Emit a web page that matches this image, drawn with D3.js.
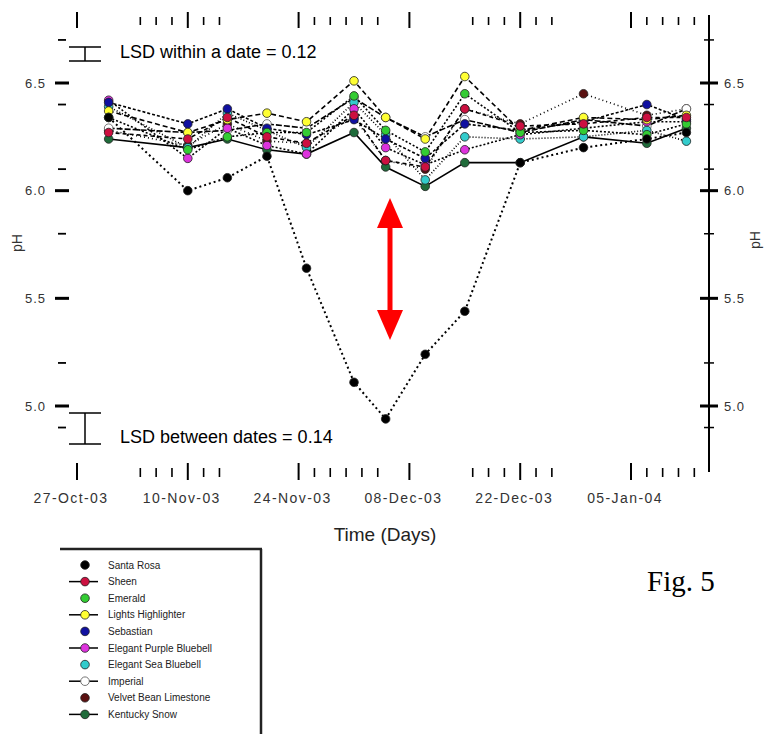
<!DOCTYPE html>
<html><head><meta charset="utf-8">
<script src="https://cdn.jsdelivr.net/npm/d3@7/dist/d3.min.js"></script>
<style>body{margin:0;background:#fff}svg{display:block}text{font-family:"Liberation Sans",Arial,sans-serif}</style>
</head><body><svg id="c" width="766" height="736"></svg>
<script>
// ---- data ----
const sampleDates = ["2003-10-31","2003-11-10","2003-11-15","2003-11-20","2003-11-25","2003-12-01","2003-12-05","2003-12-10","2003-12-15","2003-12-22","2003-12-30","2004-01-07","2004-01-12"];
const seriesNames = ["Santa Rosa","Sheen","Emerald","Lights Highlighter","Sebastian","Elegant Purple Bluebell","Elegant Sea Bluebell","Imperial","Velvet Bean Limestone","Kentucky Snow"];
const seriesColors = ["#000000","#cc1040","#33cc33","#ffff33","#1010a0","#dd33dd","#33cccc","#ffffff","#5a1010","#1f6b3a"];
const seriesDash = ["2,3","4,3","2,2","5,3","3,2","2,2","1,2","6,2","1,3",null];
const phSantaRosa = [6.34,6.00,6.06,6.16,5.64,5.11,4.94,5.24,5.44,6.13,6.20,6.24,6.27];
const phSheen     = [6.27,6.24,6.34,6.25,6.22,6.35,6.14,6.11,6.38,6.30,6.31,6.34,6.34];
const phEmerald   = [6.34,6.19,6.25,6.27,6.27,6.44,6.28,6.18,6.45,6.27,6.28,6.26,6.31];
const phLights    = [6.37,6.27,6.33,6.36,6.32,6.51,6.34,6.24,6.53,6.28,6.34,6.33,6.35];
const phSebastian = [6.41,6.31,6.38,6.29,6.26,6.33,6.24,6.15,6.31,6.28,6.32,6.40,6.33];
const phPurple    = [6.42,6.15,6.29,6.21,6.17,6.38,6.20,6.12,6.19,6.26,6.29,6.32,6.32];
const phSea       = [6.39,6.20,6.36,6.28,6.20,6.41,6.26,6.05,6.25,6.24,6.25,6.28,6.23];
const phImperial  = [6.29,6.27,6.28,6.31,6.29,6.43,6.34,6.25,6.33,6.27,6.33,6.30,6.38];
const phVelvet    = [6.28,6.21,6.31,6.23,6.22,6.34,6.14,6.10,6.38,6.31,6.45,6.35,6.38];
const phKentucky  = [6.24,6.20,6.24,6.19,6.17,6.27,6.11,6.02,6.13,6.13,6.25,6.22,6.29];
const seriesValues = [phSantaRosa,phSheen,phEmerald,phLights,phSebastian,phPurple,phSea,phImperial,phVelvet,phKentucky];
const majorDates = ["2003-10-27","2003-11-10","2003-11-24","2003-12-08","2003-12-22","2004-01-05"];
const majorLabels = ["27-Oct-03","10-Nov-03","24-Nov-03","08-Dec-03","22-Dec-03","05-Jan-04"];
const minorDates = ["2003-11-04","2003-11-06","2003-11-08","2003-11-12","2003-11-14","2003-11-26","2003-11-28","2003-11-30","2003-12-02","2003-12-04","2003-12-16","2003-12-18","2003-12-20","2003-12-24","2003-12-26","2004-01-07","2004-01-09","2004-01-11","2004-01-13"];
const yMajor = [5.0,5.5,6.0,6.5];
const yMajorLabels = ["5.0","5.5","6.0","6.5"];
const yMinor = [4.9,5.2,5.8,6.1,6.4,6.7];

const parse = d3.utcParse("%Y-%m-%d");
const svg = d3.select("#c");
svg.append("rect").attr("width",766).attr("height",736).attr("fill","#fff");

const x = d3.scaleUtc().domain([parse("2003-10-27"), parse("2004-01-05")]).range([77, 631]);
const y = d3.scaleLinear().domain([5.0, 6.5]).range([406, 83]);

// ---- left ticks ----
const gL = svg.append("g");
yMajor.forEach((v,i)=>{
  gL.append("line").attr("x1",55).attr("x2",69).attr("y1",y(v)).attr("y2",y(v)).attr("stroke","#000").attr("stroke-width",3);
  gL.append("text").attr("x",46).attr("y",y(v)+4.5).attr("text-anchor","end").attr("font-size",13).attr("letter-spacing",1).attr("fill","#333").text(yMajorLabels[i]);
});
yMinor.forEach(v=>{
  gL.append("line").attr("x1",58).attr("x2",66).attr("y1",y(v)).attr("y2",y(v)).attr("stroke","#000").attr("stroke-width",1.8);
});
svg.append("text").attr("transform","translate(22,243) rotate(-90)").attr("text-anchor","middle").attr("font-size",14).attr("fill","#333").text("pH");

// ---- right axis ----
const gR = svg.append("g");
gR.append("line").attr("x1",709).attr("x2",709).attr("y1",15).attr("y2",472).attr("stroke","#000").attr("stroke-width",2);
yMajor.forEach((v,i)=>{
  gR.append("line").attr("x1",700).attr("x2",718).attr("y1",y(v)).attr("y2",y(v)).attr("stroke","#000").attr("stroke-width",3);
  gR.append("text").attr("x",724).attr("y",y(v)+4.5).attr("font-size",13).attr("letter-spacing",1).attr("fill","#333").text(yMajorLabels[i]);
});
yMinor.forEach(v=>{
  gR.append("line").attr("x1",704).attr("x2",714).attr("y1",y(v)).attr("y2",y(v)).attr("stroke","#000").attr("stroke-width",1.5);
});
svg.append("text").attr("transform","translate(760,240) rotate(-90)").attr("text-anchor","middle").attr("font-size",14).attr("fill","#333").text("pH");

// ---- top / bottom ticks ----
const gT = svg.append("g");
majorDates.forEach((d,i)=>{
  const xx = x(parse(d));
  gT.append("line").attr("x1",xx).attr("x2",xx).attr("y1",12).attr("y2",28).attr("stroke","#000").attr("stroke-width",2);
  gT.append("line").attr("x1",xx).attr("x2",xx).attr("y1",463).attr("y2",480).attr("stroke","#000").attr("stroke-width",2);
  gT.append("text").attr("x",xx-6).attr("y",503).attr("text-anchor","middle").attr("font-size",14).attr("letter-spacing",1.4).attr("fill","#333").text(majorLabels[i]);
});
minorDates.forEach(d=>{
  const xx = x(parse(d));
  gT.append("line").attr("x1",xx).attr("x2",xx).attr("y1",17).attr("y2",25).attr("stroke","#000").attr("stroke-width",1.6);
  gT.append("line").attr("x1",xx).attr("x2",xx).attr("y1",468).attr("y2",477).attr("stroke","#000").attr("stroke-width",1.6);
});
svg.append("text").attr("x",385).attr("y",541).attr("text-anchor","middle").attr("font-size",19).attr("fill","#222").text("Time (Days)");

// ---- series ----
const dates = sampleDates.map(parse);
const line = d3.line().x((d,i)=>x(dates[i])).y(d=>y(d));
const gS = svg.append("g");
seriesValues.forEach((vals,k)=>{
  const p = gS.append("path").attr("d",line(vals)).attr("fill","none").attr("stroke","#000").attr("stroke-width",k===0?2:1.6);
  if(seriesDash[k]) p.attr("stroke-dasharray",seriesDash[k]);
});
seriesValues.slice().reverse().forEach((vals,rk)=>{
  const k = seriesValues.length-1-rk;
  gS.selectAll(null).data(vals).enter().append("circle")
    .attr("cx",(d,i)=>x(dates[i])).attr("cy",d=>y(d)).attr("r",4.3)
    .attr("fill",seriesColors[k]).attr("stroke",k===7?"#555":"#222").attr("stroke-width",0.8);
});

// ---- LSD bars ----
function lsd(y1,y2){
  svg.append("line").attr("x1",85).attr("x2",85).attr("y1",y1).attr("y2",y2).attr("stroke","#000").attr("stroke-width",1.5);
  svg.append("line").attr("x1",69).attr("x2",101).attr("y1",y1).attr("y2",y1).attr("stroke","#000").attr("stroke-width",1.5);
  svg.append("line").attr("x1",69).attr("x2",101).attr("y1",y2).attr("y2",y2).attr("stroke","#000").attr("stroke-width",1.5);
}
lsd(47,61);
svg.append("text").attr("x",120).attr("y",58).attr("font-size",18).attr("fill","#000").text("LSD within a date = 0.12");
lsd(413,444);
svg.append("text").attr("x",120).attr("y",443).attr("font-size",18).attr("fill","#000").text("LSD between dates = 0.14");

// ---- red double arrow ----
const ax = 390;
svg.append("rect").attr("x",ax-2.5).attr("y",222).attr("width",5).attr("height",96).attr("fill","#ff0000");
svg.append("path").attr("d",`M${ax},198 L${ax+13},228 L${ax-13},228 Z`).attr("fill","#ff0000");
svg.append("path").attr("d",`M${ax},340 L${ax+13},310 L${ax-13},310 Z`).attr("fill","#ff0000");

// ---- legend ----
const gLeg = svg.append("g");
gLeg.append("line").attr("x1",60).attr("x2",262).attr("y1",549).attr("y2",549).attr("stroke","#222").attr("stroke-width",2.5);
gLeg.append("line").attr("x1",261).attr("x2",261).attr("y1",549).attr("y2",734).attr("stroke","#222").attr("stroke-width",2.5);
seriesNames.forEach((n,k)=>{
  const yy = 565 + k*16.6;
  if(k%2===1) gLeg.append("line").attr("x1",69).attr("x2",98).attr("y1",yy).attr("y2",yy).attr("stroke","#000").attr("stroke-width",1.5);
  gLeg.append("circle").attr("cx",85).attr("cy",yy).attr("r",4.3).attr("fill",seriesColors[k]).attr("stroke",k===7?"#555":"#222").attr("stroke-width",0.8);
  gLeg.append("text").attr("x",108).attr("y",yy+3.5).attr("font-size",10).attr("fill","#222").text(n);
});

svg.append("text").attr("x",647).attr("y",591).style("font-family","'Liberation Serif','Times New Roman',serif").attr("font-size",29).attr("fill","#000").text("Fig. 5");
</script></body></html>
